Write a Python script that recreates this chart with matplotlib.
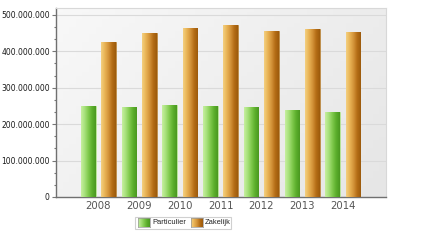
import numpy as np
import matplotlib
matplotlib.use("Agg")
import matplotlib.pyplot as plt
from matplotlib.colors import LinearSegmentedColormap
from matplotlib.ticker import FuncFormatter, MultipleLocator, AutoMinorLocator
from matplotlib.patches import Rectangle

years = ["2008", "2009", "2010", "2011", "2012", "2013", "2014"]
particulier = [250e6, 248e6, 252e6, 249e6, 246e6, 239e6, 233e6]
zakelijk = [427e6, 450e6, 463e6, 471e6, 457e6, 460e6, 452e6]
series_names = ["Particulier", "Zakelijk"]

green_cmap = LinearSegmentedColormap.from_list(
    "green", ["#c6efa0", "#a6e07a", "#7fc94c", "#5cae2c", "#4a9820"])
orange_cmap = LinearSegmentedColormap.from_list(
    "orange", ["#f4d080", "#e9b456", "#d4943a", "#b56d16", "#9c5a0c"])
bg_cmap = LinearSegmentedColormap.from_list("bg", ["#f8f8f8", "#e6e6e6"])

fig = plt.figure(figsize=(4.26, 2.40), dpi=100)
ax = fig.add_axes([56 / 426, 1 - 197 / 240, 330 / 426, 189 / 240])

x = np.arange(len(years))
width = 0.36
offset = 0.25

# plot area background gradient
yy, xx = np.mgrid[0:1:50j, 0:1:50j]
grad = 0.65 * xx + 0.35 * (1 - yy)
ax.imshow(grad, cmap=bg_cmap, extent=[0, 1, 0, 1], transform=ax.transAxes,
          aspect="auto", zorder=0, origin="lower")

bars_p = ax.bar(x - offset, particulier, width, color="#8fd65a",
                edgecolor="#b5e592", linewidth=0.5, zorder=3)
bars_z = ax.bar(x + offset, zakelijk, width, color="#d9a04a",
                edgecolor="#b07a30", linewidth=0.5, zorder=3)

hgrad = np.linspace(0, 1, 64).reshape(1, -1)
for bars, cmap in ((bars_p, green_cmap), (bars_z, orange_cmap)):
    for b in bars:
        x0, y0 = b.get_x(), b.get_y()
        im = ax.imshow(hgrad, cmap=cmap, aspect="auto",
                       extent=[x0, x0 + b.get_width(), y0, y0 + b.get_height()],
                       zorder=3.5, interpolation="bilinear")
        im.set_clip_path(b)

ax.set_xlim(-1.04, 7.06)
ax.set_ylim(0, 519e6)

ax.yaxis.set_major_locator(MultipleLocator(100e6))
ax.yaxis.set_minor_locator(AutoMinorLocator(3))
ax.yaxis.set_major_formatter(
    FuncFormatter(lambda v, p: f"{int(v):,}".replace(",", ".")))
ax.grid(axis="y", which="major", color="#dadada", linewidth=0.8, zorder=1)
ax.set_axisbelow(True)

ax.set_xticks(x)
ax.set_xticklabels(years)
ax.tick_params(axis="x", length=0, pad=3, labelsize=7.3, labelcolor="#555555")
ax.tick_params(axis="y", which="major", length=3, width=0.8, color="#777777",
               pad=1.5, labelsize=5.5, labelcolor="#1a1a1a")
ax.tick_params(axis="y", which="minor", length=1.5, width=0.8, color="#777777")

for side in ("left", "bottom"):
    ax.spines[side].set_color("#707070")
    ax.spines[side].set_linewidth(1.0)
for side in ("top", "right"):
    ax.spines[side].set_color("#d8d8d8")
    ax.spines[side].set_linewidth(0.8)

# legend drawn in figure coordinates below the axes
lx0, ly0, lw, lh = 135 / 426, 1 - 229 / 240, 96 / 426, 12 / 240
fig.patches.append(Rectangle((lx0, ly0), lw, lh, transform=fig.transFigure,
                             facecolor="white", edgecolor="#d0d0d0", lw=0.8,
                             zorder=-1))
entries = [(series_names[0], green_cmap, 138), (series_names[1], orange_cmap, 191)]
for name, cmap, px in entries:
    sw = fig.add_axes([px / 426, 1 - 227 / 240, 12 / 426, 9 / 240], zorder=2)
    sw.imshow(hgrad, cmap=cmap, aspect="auto", interpolation="bilinear")
    sw.set_xticks([])
    sw.set_yticks([])
    for s in sw.spines.values():
        s.set_color("#999999")
        s.set_linewidth(0.5)
    fig.text((px + 14) / 426, 1 - 222.5 / 240, name, fontsize=5.4,
             family="Liberation Sans", color="#222222", va="center", ha="left",
             zorder=3)

fig.savefig("out.png", dpi=100)
